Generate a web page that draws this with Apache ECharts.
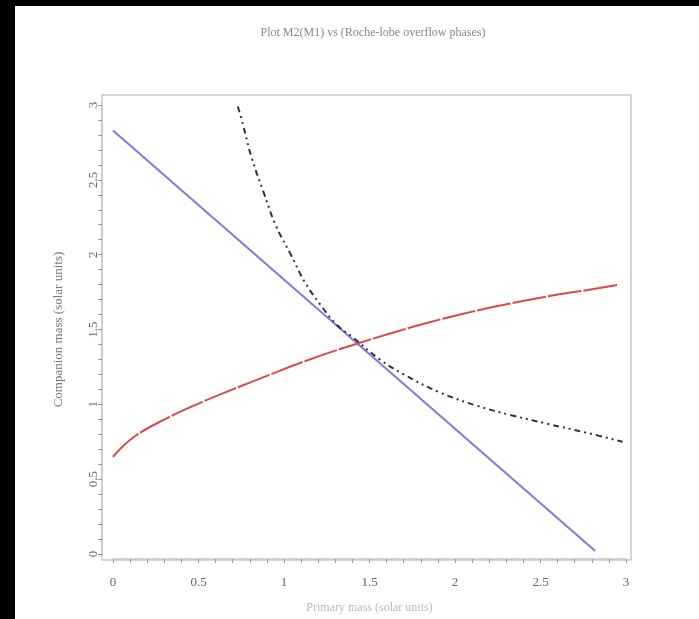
<!DOCTYPE html>
<html>
<head>
<meta charset="UTF-8">
<title>Companion mass</title>
<script src="https://cdn.jsdelivr.net/npm/echarts@6/dist/echarts.min.js"></script>
<style>
    html, body { margin: 0; padding: 0; background: #000; }
    #chart { position: absolute; left: 0; top: 0; width: 699px; height: 619px; }
</style>
</head>
<body>
<div id="chart"></div>
<script>
// data
const titleText = 'Plot M2(M1) vs (Roche-lobe overflow phases)';
const xName = 'Primary mass (solar units)';
const yName = 'Companion mass (solar units)';

const blueX = [0, 2.82];
const blueY = [2.83, 0.02];

const redX = [0, 0.12, 0.32, 0.51, 0.70, 0.90, 1.15, 1.44, 1.64, 1.84, 2.03, 2.22, 2.42, 2.61, 2.81, 2.96];
const redY = [0.65, 0.78, 0.91, 1.01, 1.10, 1.19, 1.30, 1.41, 1.48, 1.545, 1.60, 1.65, 1.695, 1.735, 1.77, 1.80];

const blackX = [0.73, 0.76, 0.81, 0.88, 0.95, 1.04, 1.12, 1.21, 1.31, 1.40, 1.56, 1.70, 1.91, 2.13, 2.32, 2.54, 2.77, 2.98];
const blackY = [2.99, 2.87, 2.65, 2.42, 2.20, 2.00, 1.82, 1.67, 1.53, 1.45, 1.30, 1.20, 1.08, 0.99, 0.93, 0.87, 0.81, 0.75];

const pairs = (xs, ys) => xs.map((x, i) => [x, ys[i]]);

const chart = echarts.init(document.getElementById('chart'));

const labelFont = {
    color: '#666',
    fontFamily: 'Liberation Serif',
    fontSize: 13
};

chart.setOption({
    backgroundColor: '#fff',
    animation: false,
    title: {
        text: titleText,
        left: 368,
        top: 22,
        textAlign: 'center',
        textStyle: { color: '#888', fontFamily: 'Liberation Serif', fontSize: 12, fontWeight: 'normal' }
    },
    graphic: [
        { type: 'rect', shape: { x: 0, y: 0, width: 699, height: 6 }, style: { fill: '#000' }, z: 100 },
        { type: 'rect', shape: { x: 0, y: 0, width: 15, height: 619 }, style: { fill: '#000' }, z: 100 }
    ],
    grid: [
        // data area 0..3 x 0..3
        { left: 113, right: 73, top: 105, bottom: 64 },
        // frame
        { left: 102, right: 68, top: 95, bottom: 59, show: true, borderColor: '#c8c8c8', borderWidth: 1.5, backgroundColor: 'transparent' }
    ],
    xAxis: [
        {
            type: 'value', gridIndex: 0, min: 0, max: 3, interval: 0.5, offset: 5,
            name: xName, nameLocation: 'middle', nameGap: 43,
            nameTextStyle: { color: '#bbb', fontFamily: 'Liberation Serif', fontSize: 12 },
            axisLine: { show: true, onZero: false, lineStyle: { color: '#c8c8c8', width: 1.5 } },
            axisTick: { show: true, length: 4, lineStyle: { color: '#999' } },
            minorTick: { show: true, splitNumber: 5, length: 4, lineStyle: { color: '#999' } },
            splitLine: { show: false },
            axisLabel: Object.assign({ margin: 17 }, labelFont)
        },
        { type: 'value', gridIndex: 1, show: false, min: 0, max: 1 }
    ],
    yAxis: [
        {
            type: 'value', gridIndex: 0, min: 0, max: 3, interval: 0.5, offset: 11,
            name: yName, nameLocation: 'middle', nameGap: 37,
            nameTextStyle: { color: '#777', fontFamily: 'Liberation Serif', fontSize: 13 },
            axisLine: { show: true, onZero: false, lineStyle: { color: '#c8c8c8', width: 1.5 } },
            axisTick: { show: true, length: 4, lineStyle: { color: '#999' } },
            minorTick: { show: true, splitNumber: 5, length: 4, lineStyle: { color: '#999' } },
            splitLine: { show: false },
            axisLabel: Object.assign({ margin: 2, rotate: 90, align: 'center', verticalAlign: 'bottom' }, labelFont)
        },
        { type: 'value', gridIndex: 1, show: false, min: 0, max: 1 }
    ],
    series: [
        {
            type: 'line', data: pairs(blueX, blueY), symbol: 'none',
            lineStyle: { color: '#7b7be6', width: 2 }
        },
        {
            type: 'line', data: pairs(redX, redY), symbol: 'none', smooth: 0.4,
            lineStyle: { color: '#e04848', width: 2, type: [34, 2] }
        },
        {
            type: 'line', data: pairs(blackX, blackY), symbol: 'none', smooth: 0.4,
            lineStyle: { color: '#333', width: 2, type: [6, 4, 2, 4, 2, 4] }
        }
    ]
});
</script>
</body>
</html>
